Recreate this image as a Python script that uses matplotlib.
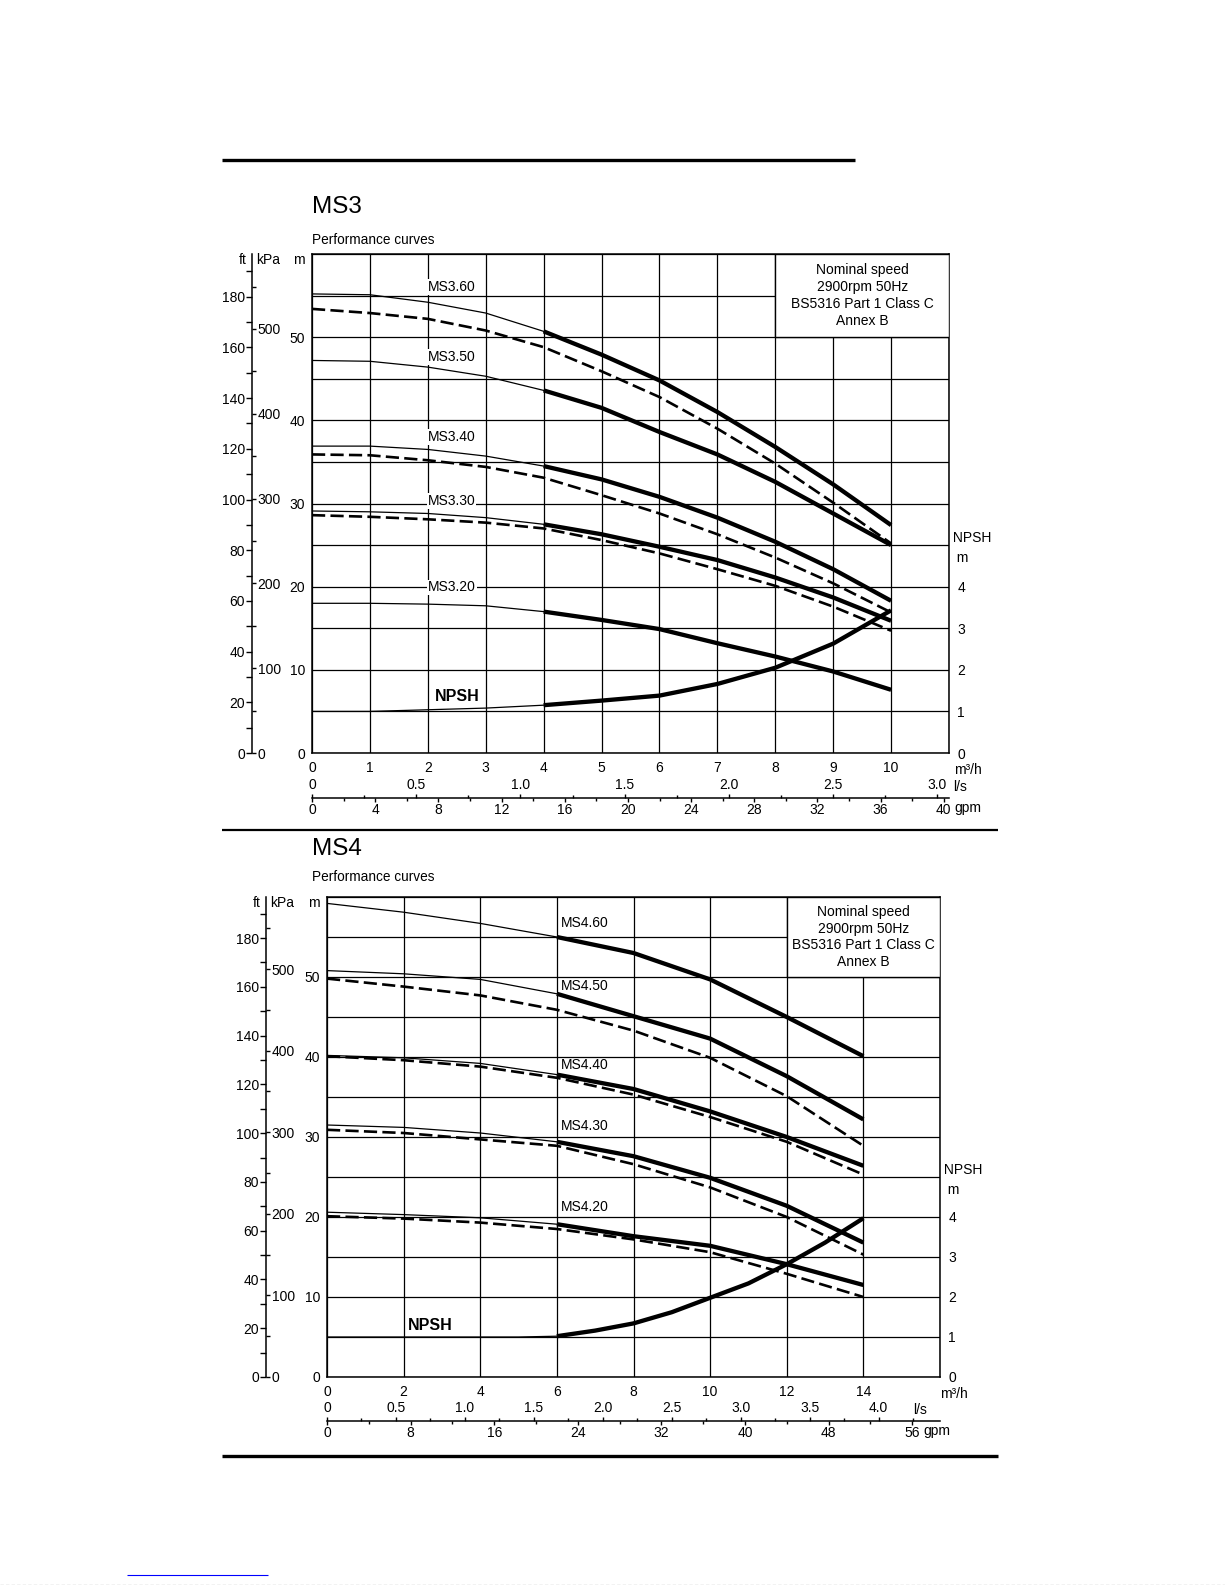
import matplotlib
matplotlib.use("Agg")
import matplotlib.pyplot as plt
from matplotlib.lines import Line2D
from matplotlib.patches import Rectangle
from matplotlib.ticker import MultipleLocator, FuncFormatter
import numpy as np

plt.rcParams['font.family'] = ['Liberation Sans', 'DejaVu Sans']

# ---------------- data (flow m3/h, head m, NPSH m) ----------------
ms3_flow = [0, 1, 2, 3, 4, 5, 6, 7, 8, 9, 10]
ms3_60_solid = [55.2, 55.1, 54.2, 52.9, 50.7, 47.9, 44.8, 41.0, 36.8, 32.3, 27.4]
ms3_60_dash = [53.4, 52.9, 52.2, 50.8, 48.8, 45.9, 42.8, 39.0, 34.8, 30.1, 25.2]
ms3_50_solid = [47.2, 47.1, 46.4, 45.3, 43.6, 41.5, 38.6, 35.9, 32.6, 28.8, 25.0]
ms3_40_solid = [36.9, 36.9, 36.5, 35.7, 34.5, 32.9, 30.8, 28.3, 25.4, 22.1, 18.3]
ms3_40_dash = [35.9, 35.8, 35.2, 34.4, 33.1, 31.0, 28.8, 26.3, 23.5, 20.4, 16.9]
ms3_30_solid = [29.1, 29.0, 28.8, 28.3, 27.5, 26.3, 24.8, 23.2, 21.1, 18.7, 15.9]
ms3_30_dash = [28.6, 28.4, 28.1, 27.7, 27.0, 25.6, 24.0, 22.1, 20.1, 17.6, 14.7]
ms3_20_solid = [18.0, 18.0, 17.9, 17.7, 17.0, 16.0, 14.9, 13.2, 11.6, 9.8, 7.6]
ms3_npsh = [1.0, 1.0, 1.04, 1.08, 1.15, 1.26, 1.38, 1.66, 2.05, 2.63, 3.43]
ms3_labels = ['MS3.60', 'MS3.50', 'MS3.40', 'MS3.30', 'MS3.20']
ms3_label_head = [56.0, 47.6, 38.0, 30.3, 19.9]

ms4_flow = [0, 2, 4, 6, 8, 10, 12, 14]
ms4_60_solid = [59.2, 58.1, 56.7, 55.0, 53.0, 49.7, 45.0, 40.1]
ms4_50_solid = [50.8, 50.4, 49.7, 47.9, 45.1, 42.3, 37.6, 32.2]
ms4_50_dash = [49.8, 48.8, 47.7, 45.9, 43.3, 39.9, 35.1, 28.9]
ms4_40_solid = [40.2, 39.9, 39.2, 37.8, 36.0, 33.2, 30.0, 26.4]
ms4_40_dash = [40.1, 39.6, 38.8, 37.4, 35.3, 32.5, 29.4, 25.3]
ms4_30_solid = [31.5, 31.2, 30.5, 29.4, 27.6, 24.9, 21.4, 16.8]
ms4_30_dash = [30.9, 30.5, 29.7, 28.9, 26.6, 23.7, 20.0, 15.3]
ms4_20_solid = [20.6, 20.3, 19.9, 19.1, 17.6, 16.4, 14.1, 11.5]
ms4_20_dash = [20.1, 19.8, 19.3, 18.5, 17.2, 15.6, 12.9, 10.0]
ms4_npsh_flow = [0, 2, 4, 5, 6, 7, 8, 9, 10, 11, 12, 13, 14]
ms4_npsh = [1.0, 1.0, 1.0, 1.0, 1.02, 1.16, 1.34, 1.62, 1.98, 2.34, 2.82, 3.36, 3.97]
ms4_labels = ['MS4.60', 'MS4.50', 'MS4.40', 'MS4.30', 'MS4.20']
ms4_label_head = [56.8, 48.9, 39.0, 31.4, 21.3]

box_lines = ['Nominal speed', '2900rpm 50Hz', 'BS5316 Part 1 Class C', 'Annex B']

M_TO_FT = 3.28084
M_TO_KPA = 9.80665
M3H_PER_LS = 3.6
M3H_PER_GPM = 0.272765   # imperial gallon

W, H = 1225, 1585
fig = plt.figure(figsize=(W / 100, H / 100), dpi=100)
fig.patch.set_facecolor('white')

FS = 10


def fx(px):
    return px / W


def fy(py):
    return 1 - py / H


def hline(x0, x1, y, lw, color='black', ls='-'):
    fig.add_artist(Line2D([fx(x0), fx(x1)], [fy(y), fy(y)], lw=lw, color=color,
                          solid_capstyle='butt', linestyle=ls))


def panel(cfg):
    L, R, T, B = cfg['rect']
    xmax = cfg['xmax']
    ax = fig.add_axes([fx(L), fy(B), fx(R) - fx(L), (B - T) / H])
    ax.set_xlim(0, xmax)
    ax.set_ylim(0, 60)
    xt = np.arange(0, xmax + 0.01, cfg['xstep'])
    ax.set_xticks(xt)
    ax.set_xticklabels([('%d' % v) if v <= cfg['xlabmax'] else '' for v in xt], fontsize=FS)
    yt = np.arange(0, 61, 5)
    ax.set_yticks(yt)
    ax.set_yticklabels([('%d' % v) if (v % 10 == 0 and v <= 50) else '' for v in yt], fontsize=FS)
    ax.tick_params(axis='both', length=0)
    ax.tick_params(axis='y', pad=5)
    ax.tick_params(axis='x', pad=5.5)
    ax.grid(True, color='black', lw=0.9)
    ax.set_axisbelow(True)
    for s in ax.spines.values():
        s.set_linewidth(1.1)

    split = cfg['split']
    flow = np.array(cfg['flow'], dtype=float)
    for h in cfg['solids']:
        h = np.array(h)
        m1 = flow <= split
        m2 = flow >= split
        ax.plot(flow[m1], h[m1], color='black', lw=0.9, zorder=2)
        ax.plot(flow[m2], h[m2], color='black', lw=3.1, zorder=2, solid_capstyle='butt')
    for h in cfg['dashes']:
        ax.plot(flow, h, color='black', lw=1.9, zorder=2, linestyle=(0, (5, 2)))
    # NPSH curve (plotted in head-scale units: 1 m NPSH = 5 m on the grid)
    nq = np.array(cfg['npsh_flow'], dtype=float)
    nv = np.array(cfg['npsh']) * 5.0
    m1 = nq <= split
    m2 = nq >= split
    ax.plot(nq[m1], nv[m1], color='black', lw=0.9, zorder=2)
    ax.plot(nq[m2], nv[m2], color='black', lw=3.1, zorder=2, solid_capstyle='butt')

    # curve labels
    for lab, hh in zip(cfg['labels'], cfg['label_heads']):
        kw = {}
        if cfg['label_bg']:
            kw['bbox'] = dict(fc='white', ec='none', pad=0.6)
        ax.text(cfg['label_x'], hh, lab, fontsize=FS, ha='left', va='center', zorder=4, **kw)
    ax.text(cfg['npsh_lab'][0], cfg['npsh_lab'][1], 'NPSH', fontsize=11.5,
            fontweight='bold', ha='left', va='center', zorder=4)

    # info box
    bx = cfg['box_x']
    ax.add_patch(Rectangle((bx, 50), xmax - bx, 10, fc='white', ec='black', lw=1.0, zorder=3))
    ax.text((bx + xmax) / 2, 55, '\n'.join(box_lines), ha='center', va='center',
            fontsize=10, linespacing=1.25, zorder=4)

    # NPSH axis on the right
    sec = ax.secondary_yaxis('right', functions=(lambda v: v / 5.0, lambda v: v * 5.0))
    sec.set_yticks([0, 1, 2, 3, 4])
    sec.set_yticklabels(['0', '1', '2', '3', '4'], fontsize=FS)
    sec.tick_params(length=0, pad=6)
    sec.spines['right'].set_visible(False)
    ax.text(1.0, 25.9, ' NPSH', transform=ax.get_yaxis_transform(), fontsize=FS,
            ha='left', va='center')
    ax.text(1.0, 23.4, '  m', transform=ax.get_yaxis_transform(), fontsize=FS,
            ha='left', va='center')
    ax.annotate('m\u00b3/h', xy=(1, 0), xycoords='axes fraction',
                xytext=(cfg['m3h_dx'], -17), textcoords='offset pixels',
                fontsize=FS, ha='left', va='center')

    # ft / kPa axis
    ftx = cfg['ftx']
    axft = fig.add_axes([fx(ftx), fy(B), 1e-5, (B - T) / H])
    axft.patch.set_visible(False)
    axft.set_ylim(0, 60 * M_TO_FT)
    for k in ['top', 'right', 'bottom']:
        axft.spines[k].set_visible(False)
    axft.spines['left'].set_linewidth(1.1)
    axft.set_xticks([])
    axft.yaxis.set_major_locator(MultipleLocator(20))
    axft.yaxis.set_minor_locator(MultipleLocator(10))
    axft.yaxis.set_major_formatter(FuncFormatter(lambda v, p: '%d' % v if v <= 180 else ''))
    axft.tick_params(axis='y', which='major', length=4, width=1, pad=1, labelsize=FS)
    axft.tick_params(axis='y', which='minor', length=4, width=1)

    axk = fig.add_axes([fx(ftx), fy(B), 1e-5, (B - T) / H], label='kpa' + cfg['name'])
    axk.patch.set_visible(False)
    axk.set_ylim(0, 60 * M_TO_KPA)
    for k in ['top', 'left', 'bottom', 'right']:
        axk.spines[k].set_visible(False)
    axk.set_xticks([])
    axk.yaxis.tick_right()
    axk.yaxis.set_major_locator(MultipleLocator(100))
    axk.yaxis.set_minor_locator(MultipleLocator(50))
    axk.yaxis.set_major_formatter(FuncFormatter(lambda v, p: '%d' % v if v <= 500 else ''))
    axk.tick_params(axis='y', which='major', length=3, width=1, pad=1, labelsize=FS)
    axk.tick_params(axis='y', which='minor', length=3, width=1)

    # header labels
    hy = fy(T + 6)
    fig.text(fx(ftx - 5), hy, 'ft', ha='right', va='center', fontsize=FS)
    fig.text(fx(ftx + 4), hy, 'kPa', ha='left', va='center', fontsize=FS)
    fig.text(fx(L - 7), hy, 'm', ha='right', va='center', fontsize=FS)

    # titles
    fig.text(fx(cfg['title_x']), fy(cfg['title_y']), cfg['name'], fontsize=17.5,
             ha='left', va='center')
    fig.text(fx(cfg['title_x']), fy(cfg['perf_y']), 'Performance curves', fontsize=9.8,
             ha='left', va='center')

    # l/s and gpm scales
    ly = cfg['line_y']
    axls = fig.add_axes([fx(L), fy(ly), fx(R) - fx(L), 1e-5])
    axls.patch.set_visible(False)
    axls.set_xlim(0, xmax / M3H_PER_LS)
    for k in ['left', 'right', 'bottom', 'top']:
        axls.spines[k].set_visible(False)
    axls.set_yticks([])
    axls.xaxis.tick_top()
    axls.xaxis.set_major_locator(MultipleLocator(0.5))
    axls.xaxis.set_minor_locator(MultipleLocator(0.25))
    axls.xaxis.set_major_formatter(FuncFormatter(
        lambda v, p: ('0' if abs(v) < 1e-9 else '%.1f' % v) if v <= cfg['lsmax'] + 1e-6 else ''))
    axls.tick_params(axis='x', which='major', length=3, width=1, pad=1.5, labelsize=FS)
    axls.tick_params(axis='x', which='minor', length=2.5, width=1)

    axg = fig.add_axes([fx(L), fy(ly), fx(R) - fx(L), 1e-5], label='gpm' + cfg['name'])
    axg.patch.set_visible(False)
    axg.set_xlim(0, xmax / M3H_PER_GPM)
    for k in ['left', 'right', 'top']:
        axg.spines[k].set_visible(False)
    axg.spines['bottom'].set_linewidth(1.1)
    axg.set_yticks([])
    axg.xaxis.set_major_locator(MultipleLocator(cfg['gpm_major']))
    axg.xaxis.set_minor_locator(MultipleLocator(cfg['gpm_minor']))
    axg.xaxis.set_major_formatter(FuncFormatter(
        lambda v, p: '%d' % v if v <= cfg['gpmmax'] + 1e-6 else ''))
    axg.tick_params(axis='x', which='major', length=3, width=1, pad=0.5, labelsize=FS)
    axg.tick_params(axis='x', which='minor', length=2.5, width=1)

    fig.text(fx(cfg['ls_txt_x']), fy(ly - 11), 'l/s', fontsize=FS, ha='left', va='center')
    fig.text(fx(cfg['gpm_txt_x']), fy(ly + 10), 'gpm', fontsize=FS, ha='left', va='center')
    return ax


ms3_cfg = dict(
    name='MS3', rect=(312, 949, 254, 753), xmax=11, xstep=1, xlabmax=10,
    flow=ms3_flow,
    solids=[ms3_60_solid, ms3_50_solid, ms3_40_solid, ms3_30_solid, ms3_20_solid],
    dashes=[ms3_60_dash, ms3_40_dash, ms3_30_dash],
    npsh_flow=ms3_flow, npsh=ms3_npsh, split=4,
    labels=ms3_labels, label_heads=ms3_label_head, label_x=2.0, label_bg=True,
    npsh_lab=(2.12, 6.8), box_x=8, ftx=252, m3h_dx=5,
    title_x=312, title_y=207, perf_y=240, line_y=798, lsmax=3.0, gpmmax=40,
    gpm_major=4, gpm_minor=2, ls_txt_x=953, gpm_txt_x=954,
)

ms4_cfg = dict(
    name='MS4', rect=(327, 940, 897, 1377), xmax=16, xstep=2, xlabmax=14,
    flow=ms4_flow,
    solids=[ms4_60_solid, ms4_50_solid, ms4_40_solid, ms4_30_solid, ms4_20_solid],
    dashes=[ms4_50_dash, ms4_40_dash, ms4_30_dash, ms4_20_dash],
    npsh_flow=ms4_npsh_flow, npsh=ms4_npsh, split=6,
    labels=ms4_labels, label_heads=ms4_label_head, label_x=6.1, label_bg=False,
    npsh_lab=(2.1, 6.4), box_x=12, ftx=266, m3h_dx=0,
    title_x=312, title_y=849, perf_y=877, line_y=1421, lsmax=4.0, gpmmax=56,
    gpm_major=8, gpm_minor=4, ls_txt_x=913, gpm_txt_x=923,
)

panel(ms3_cfg)
panel(ms4_cfg)

# horizontal rules
hline(222, 855, 160, 2.4)
hline(222, 998, 830, 1.6)
hline(222, 998, 1456, 2.4)
hline(127, 268, 1575, 0.8, color='#0000ff')
hline(0, 1225, 1584.5, 0.8, color='#222222', ls=(0, (3, 2)))

fig.savefig('out.png', dpi=100, facecolor='white')
